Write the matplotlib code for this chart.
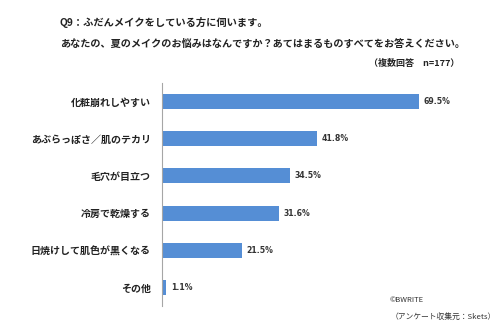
import matplotlib
matplotlib.use("Agg")
import matplotlib.pyplot as plt

plt.rcParams['font.family'] = ['Noto Sans CJK JP', 'DejaVu Sans']

# datos
categorias = ["化粧崩れしやすい", "あぶらっぽさ／肌のテカリ", "毛穴が目立つ",
              "冷房で乾燥する", "日焼けして肌色が黒くなる", "その他"]
valores = [69.5, 41.8, 34.5, 31.6, 21.5, 1.1]
etiquetas = ["69.5%", "41.8%", "34.5%", "31.6%", "21.5%", "1.1%"]

fig = plt.figure(figsize=(5, 3.33), dpi=100)
ax = fig.add_axes([0.324, 0.081, 0.592, 0.67])

pos = list(range(len(categorias)))
ax.barh(pos, valores, height=0.4, color="#558ED5")
ax.set_ylim(5.5, -0.5)
ax.set_xlim(0, 80)
ax.set_yticks(pos)
ax.set_yticklabels(categorias, fontsize=7.2, fontweight="bold", color="#222222")
ax.tick_params(axis="y", length=0, pad=8)
ax.set_xticks([])

for s in ["top", "right", "bottom"]:
    ax.spines[s].set_visible(False)
ax.spines["left"].set_color("#A6A6A6")
ax.spines["left"].set_linewidth(0.8)

for p, v, t in zip(pos, valores, etiquetas):
    ax.text(v + 1.3, p, t, va="center", ha="left", fontsize=5.6,
            fontweight="bold", color="#333333", family=["DejaVu Sans"])

# titulos
fig.text(0.12, 0.933, "Q9：ふだんメイクをしている方に伺います。", fontsize=7.4,
         fontweight="bold", color="#222222", va="center")
fig.text(0.12, 0.87, "あなたの、夏のメイクのお悩みはなんですか？あてはまるものすべてをお答えください。",
         fontsize=7.3, fontweight="bold", color="#222222", va="center")
fig.text(0.918, 0.81, "（複数回答　n=177）", fontsize=6.5, fontweight="bold",
         color="#222222", va="center", ha="right")

# pie
fig.text(0.78, 0.099, "©BWRITE", fontsize=5.5, color="#333333", va="center")
fig.text(0.782, 0.048, "（アンケート収集元：Skets）", fontsize=5.6, color="#333333", va="center")

plt.savefig("out.png", dpi=100)
plt.close()
